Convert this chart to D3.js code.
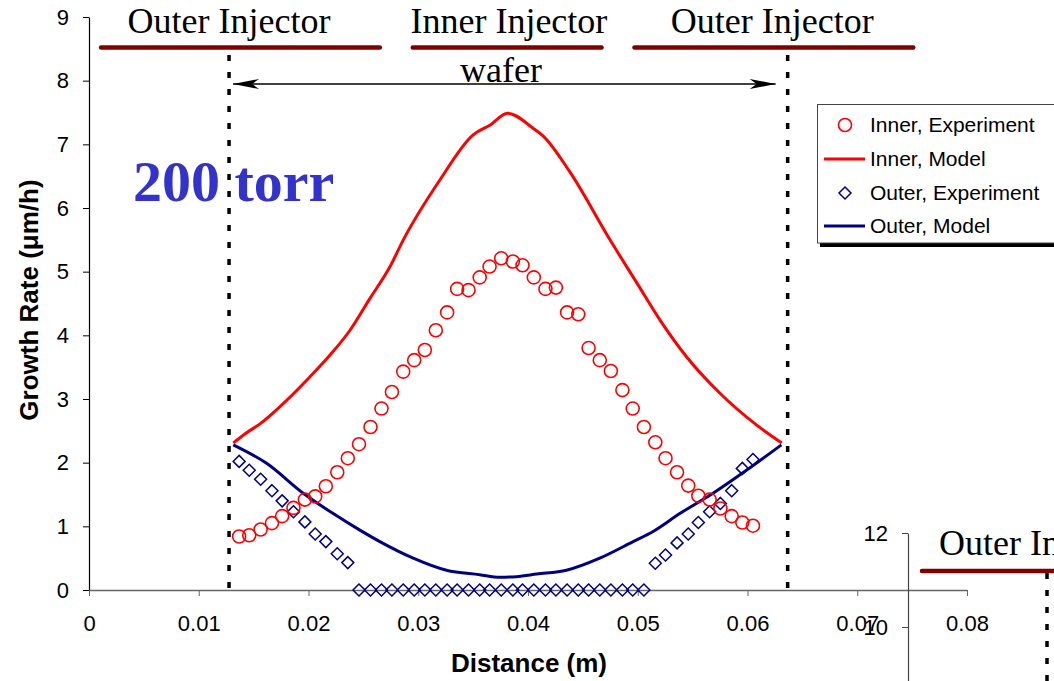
<!DOCTYPE html>
<html>
<head>
<meta charset="utf-8">
<script src="https://cdn.jsdelivr.net/npm/d3@7"></script>
<style>
  html, body { margin: 0; padding: 0; background: #fff; }
  svg { display: block; }
</style>
</head>
<body>
<svg id="chart" width="1054" height="681"></svg>
<script>
// ---------------- DATA ----------------
const distance = [0.01368,0.0146,0.01564,0.01667,0.0176,0.01863,0.01967,0.02061,0.02158,0.02262,
  0.02358,0.0246,0.02565,0.02665,0.0276,0.02863,0.02963,0.0306,0.0316,0.03263,
  0.03354,0.03458,0.0356,0.0365,0.03756,0.03862,0.0395,0.04053,0.04159,0.04254,
  0.04356,0.04458,0.04552,0.04654,0.04755,0.0486,0.04954,0.05056,0.0516,0.05253,
  0.05358,0.0546,0.05552,0.05655,0.05753,0.05856,0.05953,0.0605];
const innerExp = [0.84,0.86,0.95,1.05,1.16,1.29,1.42,1.47,1.63,1.85,
  2.07,2.29,2.56,2.85,3.11,3.43,3.61,3.77,4.08,4.36,
  4.73,4.71,4.91,5.08,5.21,5.16,5.10,4.91,4.73,4.75,
  4.36,4.33,3.80,3.61,3.44,3.14,2.85,2.56,2.32,2.07,
  1.85,1.64,1.48,1.42,1.28,1.16,1.06,1.01];
const outerExp = [2.02,1.88,1.74,1.56,1.40,1.23,1.07,0.88,0.76,0.57,
  0.43,0,0,0,0,0,0,0,0,0,
  0,0,0,0,0,0,0,0,0,0,
  0,0,0,0,0,0,0,0,0.42,0.55,
  0.74,0.88,1.06,1.23,1.36,1.56,1.91,2.05];
const innerModelX = [0.01315,0.01436,0.01558,0.0174,0.02014,0.02196,0.02378,0.0256,0.02743,0.02864,
  0.03197,0.035,0.03652,0.03813,0.04048,0.04139,0.0438,0.04747,0.04993,0.05203,
  0.05446,0.05749,0.06084,0.06312];
const innerModelY = [2.31,2.47,2.61,2.88,3.35,3.69,4.08,4.58,5.08,5.50,
  6.44,7.15,7.30,7.49,7.25,7.13,6.57,5.50,4.82,4.24,
  3.66,3.09,2.59,2.31];
const outerModelX = [0.01314,0.01618,0.01952,0.02225,0.02468,0.0265,0.02954,0.03257,0.0356,0.03743,
  0.03895,0.0408,0.0435,0.04654,0.04958,0.0514,0.05383,0.05686,0.0599,0.06309];
const outerModelY = [2.28,1.99,1.52,1.20,0.94,0.76,0.50,0.31,0.24,0.20,
  0.21,0.25,0.31,0.50,0.76,0.92,1.20,1.52,1.88,2.28];
const xTicks = [0,0.01,0.02,0.03,0.04,0.05,0.06,0.07,0.08];
const yTicks = [0,1,2,3,4,5,6,7,8,9];
const y2Ticks = [10,12];
const legendLabels = ["Inner, Experiment","Inner, Model","Outer, Experiment","Outer, Model"];
const injectorLabels = ["Outer Injector","Inner Injector","Outer Injector"];
const injectorStart = [0.0011,0.0295,0.0497];
const injectorEnd = [0.0265,0.0467,0.0751];
const injectorCenter = [0.01275,0.03826,0.06225];
const waferEdges = [0.01276,0.06366];
const pressureLabel = "200 torr";
const xTitle = "Distance (m)";
const yTitle = "Growth Rate (\u03BCm/h)";

// ---------------- SETUP ----------------
const svg = d3.select("#chart");
const x = d3.scaleLinear().domain([0, 0.08]).range([89, 967]);
const y = d3.scaleLinear().domain([0, 9]).range([590, 17]);
const SANS = "'Liberation Sans', Arial, sans-serif";
const SERIF = "'Liberation Serif', 'Times New Roman', serif";
const RED = "#ff0000", NAVY = "#000080", DARKRED = "#800000";

// ---------------- AXES ----------------
const yAxis = svg.append("g").attr("transform", `translate(${x(0)},0)`)
  .call(d3.axisLeft(y).tickValues(yTicks).tickSize(6).tickSizeOuter(0).tickFormat(d3.format("d")));
yAxis.select(".domain").attr("stroke", "#000").attr("stroke-width", 1.2);
yAxis.selectAll(".tick line").attr("stroke", "#000");
yAxis.selectAll(".tick text").attr("x", -20).attr("font-family", SANS).attr("font-size", 22).attr("fill", "#000");

const xAxis = svg.append("g").attr("transform", `translate(0,${y(0)})`)
  .call(d3.axisBottom(x).tickValues(xTicks).tickSize(6).tickSizeOuter(0)
    .tickFormat(d => d === 0 ? "0" : d.toFixed(2)));
xAxis.select(".domain").attr("stroke", "#666").attr("stroke-width", 1.5);
xAxis.selectAll(".tick line").attr("stroke", "#666");
xAxis.selectAll(".tick text").attr("y", 41).attr("dy", 0)
  .attr("font-family", SANS).attr("font-size", 22).attr("fill", "#000");

// second (overlapping) chart axis in lower right
const y2 = d3.scaleLinear().domain([7, 12]).range([768, 533]);
const y2Axis = svg.append("g").attr("transform", "translate(908,0)")
  .call(d3.axisLeft(y2).tickValues(y2Ticks).tickSize(6).tickSizeOuter(0).tickFormat(d3.format("d")));
y2Axis.select(".domain").attr("stroke", "#444").attr("stroke-width", 1.2);
y2Axis.selectAll(".tick line").attr("stroke", "#444");
y2Axis.selectAll(".tick text").attr("x", -20).attr("font-family", SANS).attr("font-size", 22).attr("fill", "#000");

// titles
svg.append("text").attr("x", 529).attr("y", 672)
  .attr("text-anchor", "middle").attr("font-family", SANS).attr("font-weight", "bold")
  .attr("font-size", 26).text(xTitle);
svg.append("text").attr("transform", "translate(38,300) rotate(-90)")
  .attr("text-anchor", "middle").attr("font-family", SANS).attr("font-weight", "bold")
  .attr("font-size", 26).text(yTitle);

// ---------------- ANNOTATIONS ----------------
svg.selectAll(".edge").data(waferEdges).enter().append("line")
  .attr("x1", d => x(d)).attr("x2", d => x(d)).attr("y1", 55).attr("y2", y(0))
  .attr("stroke", "#000").attr("stroke-width", 3.5).attr("stroke-dasharray", "6,11");

svg.selectAll(".inj").data(injectorStart).enter().append("line")
  .attr("x1", d => x(d)).attr("x2", (d, i) => x(injectorEnd[i]))
  .attr("y1", 47.5).attr("y2", 47.5)
  .attr("stroke", DARKRED).attr("stroke-width", 4.5).attr("stroke-linecap", "round");
svg.selectAll(".injt").data(injectorLabels).enter().append("text")
  .attr("x", (d, i) => x(injectorCenter[i])).attr("y", 33)
  .attr("text-anchor", "middle").attr("font-family", SERIF).attr("font-size", 36)
  .attr("fill", "#000").text(d => d);

const ay = 84, ax1 = x(waferEdges[0]) + 4, ax2 = x(waferEdges[1]) - 12;
svg.append("line").attr("x1", ax1).attr("x2", ax2).attr("y1", ay).attr("y2", ay)
  .attr("stroke", "#000").attr("stroke-width", 1.5);
svg.append("path").attr("d", `M${ax1},${ay} L${ax1+26},${ay-5} L${ax1+19},${ay} L${ax1+26},${ay+5} Z`).attr("fill", "#000");
svg.append("path").attr("d", `M${ax2},${ay} L${ax2-26},${ay-5} L${ax2-19},${ay} L${ax2-26},${ay+5} Z`).attr("fill", "#000");
svg.append("text").attr("x", 501).attr("y", 82).attr("text-anchor", "middle")
  .attr("font-family", SERIF).attr("font-size", 36).text("wafer");

svg.append("text").attr("x", 133).attr("y", 201)
  .attr("font-family", SERIF).attr("font-weight", "bold").attr("font-size", 58)
  .attr("fill", "#3333cc").text(pressureLabel);

// second chart fragments
svg.append("text").attr("x", 939).attr("y", 555)
  .attr("font-family", SERIF).attr("font-size", 36).attr("fill", "#000").text("Outer Injector");
svg.append("line").attr("x1", 922).attr("x2", 1070).attr("y1", 571).attr("y2", 571)
  .attr("stroke", DARKRED).attr("stroke-width", 4.5).attr("stroke-linecap", "round");
svg.append("line").attr("x1", 1047).attr("x2", 1047).attr("y1", 573).attr("y2", 690)
  .attr("stroke", "#000").attr("stroke-width", 3.5).attr("stroke-dasharray", "6,11");
svg.append("text").attr("x", 934).attr("y", 719)
  .attr("font-family", SERIF).attr("font-weight", "bold").attr("font-size", 58)
  .attr("fill", "#3333cc").text("760 torr");

// ---------------- SERIES ----------------
const line = d3.line().x(d => x(d[0])).y(d => y(d[1])).curve(d3.curveMonotoneX);
svg.append("path").datum(innerModelX.map((v, i) => [v, innerModelY[i]]))
  .attr("d", line).attr("fill", "none").attr("stroke", RED).attr("stroke-width", 3)
  .attr("stroke-linejoin", "round");
svg.append("path").datum(outerModelX.map((v, i) => [v, outerModelY[i]]))
  .attr("d", line).attr("fill", "none").attr("stroke", NAVY).attr("stroke-width", 3)
  .attr("stroke-linejoin", "round");

const diamond = "M0,-6L6,0L0,6L-6,0Z";
svg.append("g").selectAll("path").data(distance.map((v, i) => [v, outerExp[i]])).enter()
  .append("path").attr("d", diamond)
  .attr("transform", d => `translate(${x(d[0])},${y(d[1])})`)
  .attr("fill", "none").attr("stroke", NAVY).attr("stroke-width", 1.5);
svg.append("g").selectAll("circle").data(distance.map((v, i) => [v, innerExp[i]])).enter()
  .append("circle").attr("cx", d => x(d[0])).attr("cy", d => y(d[1])).attr("r", 6.5)
  .attr("fill", "none").attr("stroke", RED).attr("stroke-width", 1.6);

// ---------------- LEGEND ----------------
const lg = svg.append("g");
lg.append("rect").attr("x", 820).attr("y", 243).attr("width", 260).attr("height", 4).attr("fill", "#000");
lg.append("rect").attr("x", 817.5).attr("y", 104.5).attr("width", 260).attr("height", 138.5)
  .attr("fill", "#fff").attr("stroke", "#444").attr("stroke-width", 1);
const rowY = [125, 159, 193, 226];
legendLabels.forEach((lab, i) => {
  const ry = rowY[i];
  if (i === 0) lg.append("circle").attr("cx", 845).attr("cy", ry).attr("r", 6.5)
    .attr("fill", "none").attr("stroke", RED).attr("stroke-width", 1.6);
  if (i === 2) lg.append("path").attr("d", diamond).attr("transform", `translate(845,${ry})`)
    .attr("fill", "none").attr("stroke", NAVY).attr("stroke-width", 1.5);
  if (i === 1 || i === 3) lg.append("line").attr("x1", 824).attr("x2", 865).attr("y1", ry).attr("y2", ry)
    .attr("stroke", i === 1 ? RED : NAVY).attr("stroke-width", 3);
  lg.append("text").attr("x", 870).attr("y", ry).attr("dy", "0.35em")
    .attr("font-family", SANS).attr("font-size", 21).attr("fill", "#000").text(lab);
});
</script>
</body>
</html>
